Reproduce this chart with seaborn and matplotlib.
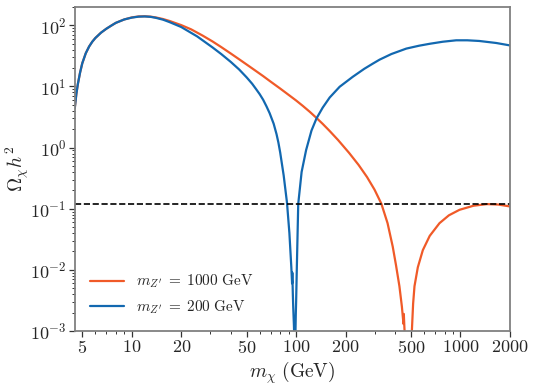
"""
Relic density vs dark matter mass for two Z' masses.
"""

import numpy as np
import pandas as pd
import matplotlib
matplotlib.use("Agg")
import matplotlib.pyplot as plt
import matplotlib.ticker as mticker
import seaborn as sns

sns.set_theme(style="ticks")
plt.rcParams["mathtext.fontset"] = "cm"
plt.rcParams["font.family"] = ["serif"]
plt.rcParams["font.serif"] = ["cmr10", "DejaVu Serif"]
plt.rcParams["axes.formatter.use_mathtext"] = True

# m_Z' = 1000 GeV
m_1000 = [4.5, 4.6, 4.7, 4.85, 5.0, 5.25, 5.5, 5.75, 6.0, 6.5, 7.0, 7.5, 8.0, 9.0, 10.0,
          11.0, 12.0, 13.0, 14.0, 15.5, 17.0, 20.0, 23.0, 27.0, 31.0, 35.0, 40.0, 45.0,
          50.0, 56.0, 63.0, 70.0, 80.0, 90.0, 100.0, 110.0, 121.0, 133.0, 145.0, 160.0,
          180.0, 210.0, 240.0, 270.0, 300.0, 330.0, 360.0, 387.0, 405.0, 425.0, 440.0,
          450.0, 452.0, 456.0, 458.0, 470.0, 490.0, 506.0, 515.0, 525.0, 550.0, 590.0,
          650.0, 745.0, 850.0, 986.0, 1200.0, 1450.0, 1700.0, 2000.0]
omega_1000 = [4.4, 7.5, 11.0, 17.0, 24.0, 35.0, 45.0, 54.0, 62.0, 76.0, 88.0, 99.0, 110.0, 125.0, 135.0,
              140.0, 141.0, 139.0, 135.0, 127.0, 118.0, 101.0, 86.0, 68.0, 54.6, 44.2, 34.7, 27.9,
              22.9, 18.5, 14.8, 12.0, 9.25, 7.3, 5.9, 4.8, 3.86, 3.06, 2.45, 1.87,
              1.33, 0.82, 0.52, 0.33, 0.205, 0.121, 0.058, 0.024, 0.012, 0.0054, 0.0025,
              0.0013, 0.0019, 0.0011, 0.0009, 0.0002, 0.0002, 0.001, 0.0028, 0.0054, 0.011, 0.021,
              0.036, 0.058, 0.078, 0.096, 0.112, 0.119, 0.117, 0.109]

# m_Z' = 200 GeV
m_200 = [4.5, 4.6, 4.7, 4.85, 5.0, 5.25, 5.5, 5.75, 6.0, 6.5, 7.0, 7.5, 8.0, 9.0, 10.0,
         11.0, 12.0, 13.0, 14.0, 15.5, 17.0, 20.0, 25.0, 31.0, 35.0, 40.0, 45.0, 50.0,
         54.0, 57.0, 60.0, 63.0, 66.0, 69.0, 73.0, 76.0, 78.0, 80.0, 84.0, 88.0, 91.0,
         93.5, 94.5, 94.8, 95.5, 96.0, 97.0, 98.0, 98.5, 99.5, 100.0, 101.0, 103.0,
         108.0, 115.0, 124.0, 133.0, 145.0, 160.0, 184.0, 221.0, 260.0, 293.0, 322.0,
         380.0, 468.0, 560.0, 650.0, 780.0, 942.0, 1100.0, 1300.0, 1650.0, 2000.0]
omega_200 = [4.4, 7.5, 11.0, 17.0, 24.0, 35.0, 45.0, 54.0, 62.0, 76.0, 88.0, 99.0, 110.0, 125.0, 134.0,
             139.0, 140.0, 138.0, 133.0, 124.0, 113.0, 94.0, 66.0, 43.6, 34.0, 25.3, 19.0, 14.1,
             11.1, 9.1, 7.5, 6.07, 4.74, 3.66, 2.46, 1.66, 1.21, 0.83, 0.35, 0.125, 0.04,
             0.011, 0.006, 0.009, 0.004, 0.0025, 0.0012, 0.0004, 0.0004, 0.0018, 0.003, 0.011, 0.12,
             0.4, 0.91, 1.9, 3.0, 4.5, 6.6, 9.9, 14.4, 19.5, 23.7, 27.5,
             34.0, 41.7, 46.5, 50.0, 54.0, 57.0, 57.0, 55.6, 51.5, 47.0]

OMEGA_OBS = 0.12

df_1000 = pd.DataFrame({"m": m_1000, "omega": omega_1000})
df_200 = pd.DataFrame({"m": m_200, "omega": omega_200})

fig, ax = plt.subplots(figsize=(5.34, 3.88), dpi=100)
fig.subplots_adjust(left=0.140, right=0.955, top=0.982, bottom=0.147)

sns.lineplot(data=df_1000, x="m", y="omega", ax=ax, color="#F05A28", lw=1.6,
             estimator=None, label=r"$m_{Z'}\;=\;1000\ \mathrm{GeV}$")
sns.lineplot(data=df_200, x="m", y="omega", ax=ax, color="#1268B0", lw=1.6,
             estimator=None, label=r"$m_{Z'}\;=\;200\ \mathrm{GeV}$")
ax.axhline(OMEGA_OBS, color="black", ls="--", lw=1.2)

ax.set_xscale("log")
ax.set_yscale("log")
ax.set_xlim(4.5, 2000)
ax.set_ylim(1e-3, 2e2)

xt = [5, 10, 20, 50, 100, 200, 500, 1000, 2000]
ax.xaxis.set_major_locator(mticker.FixedLocator(xt))
ax.xaxis.set_major_formatter(mticker.FixedFormatter([f"${v}$" for v in xt]))
ax.xaxis.set_minor_locator(mticker.LogLocator(base=10, subs=np.arange(2, 10)))
ax.xaxis.set_minor_formatter(mticker.NullFormatter())
ax.yaxis.set_major_locator(mticker.LogLocator(base=10, numticks=10))
ax.yaxis.set_minor_locator(mticker.LogLocator(base=10, subs=np.arange(2, 10), numticks=20))

ax.tick_params(which="major", direction="out", length=4, width=0.9, color="#333333",
               labelsize=13, pad=2)
ax.tick_params(which="minor", direction="out", length=2.5, width=0.7, color="#333333")
for sp in ax.spines.values():
    sp.set_color("#808080")
    sp.set_linewidth(1.3)

ax.set_xlabel(r"$m_\chi\ (\mathrm{GeV})$", fontsize=14, labelpad=2)
ax.set_ylabel(r"$\Omega_\chi h^2$", fontsize=14)
ax.yaxis.set_label_coords(-0.10, 0.5)

ax.legend(loc="lower left", frameon=False, fontsize=11, handlelength=2.2,
          borderaxespad=0.6, labelspacing=0.5)

plt.savefig("out.png", dpi=100)
plt.close()
